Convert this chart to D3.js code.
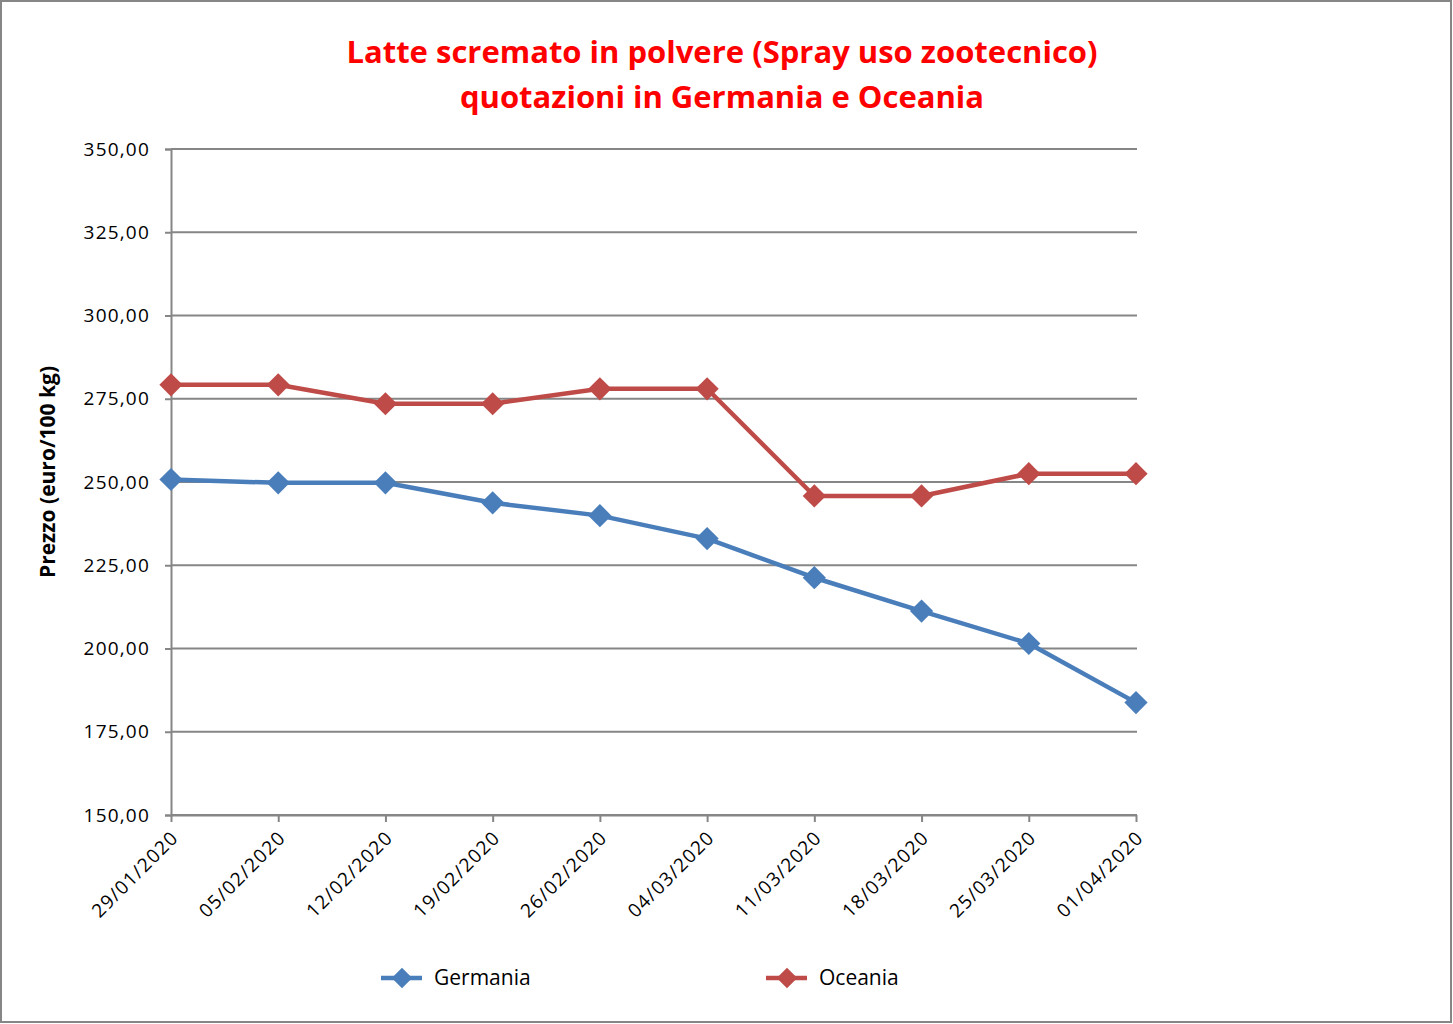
<!DOCTYPE html>
<html><head><meta charset="utf-8">
<script src="https://cdn.jsdelivr.net/npm/d3@7"></script>
<style>body{margin:0;background:#fff}svg{display:block}</style>
</head><body>
<svg id="c" width="1453" height="1024"></svg>
<script>
const dates = ["29/01/2020","05/02/2020","12/02/2020","19/02/2020","26/02/2020","04/03/2020","11/03/2020","18/03/2020","25/03/2020","01/04/2020"];
const germania = [250.75, 249.75, 249.75, 243.75, 239.9, 233.0, 221.25, 211.25, 201.5, 183.75];
const oceania = [279.2, 279.2, 273.5, 273.5, 278.0, 278.0, 245.8, 245.8, 252.5, 252.5];
const yTicks = [150,175,200,225,250,275,300,325,350];
const seriesNames = ["Germania","Oceania"];
const colors = ["#4a7ebb","#be4b48"];

const svg = d3.select("#c");
const font = "'Open Sans', 'Liberation Sans', sans-serif";
svg.append("rect").attr("x",1).attr("y",1).attr("width",1450).attr("height",1021)
  .attr("fill","#fff").attr("stroke","#868686").attr("stroke-width",2);

const x = d3.scalePoint().domain(dates).range([171,1136]);
const y = d3.scaleLinear().domain([150,350]).range([815,149]);

// gridlines
svg.append("g").selectAll("line").data(yTicks).join("line")
  .attr("x1",171).attr("x2",1137).attr("y1",d=>y(d)).attr("y2",d=>y(d))
  .attr("stroke","#868686").attr("stroke-width",2);

// y axis
const ya = svg.append("g").attr("transform","translate(171,0)")
  .call(d3.axisLeft(y).tickValues(yTicks).tickSize(6).tickPadding(15)
    .tickFormat(d=>d3.format(".2f")(d).replace(".",",")));
ya.attr("font-size",null).attr("font-family",null);
ya.select(".domain").attr("stroke","#868686").attr("stroke-width",2);
ya.selectAll(".tick line").attr("stroke","#868686").attr("stroke-width",2);
ya.selectAll("text").attr("font-family",font).attr("font-size","19px").attr("letter-spacing","1.2px").attr("fill","#000");

// x axis
const xa = svg.append("g").attr("transform","translate(0,815)")
  .call(d3.axisBottom(x).tickSize(7).tickSizeOuter(0));
xa.attr("font-size",null).attr("font-family",null);
xa.select(".domain").attr("stroke","#868686").attr("stroke-width",2);
xa.selectAll(".tick line").attr("stroke","#868686").attr("stroke-width",2);
xa.selectAll("text").attr("font-family",font).attr("font-size","19px").attr("letter-spacing","1.2px").attr("fill","#000")
  .attr("text-anchor","end").attr("dy",null).attr("y",0)
  .attr("transform","translate(8,24) rotate(-45)");

// lines
const series = [germania, oceania];
const line = d3.line().x((d,i)=>x(dates[i])).y(d=>y(d));
series.forEach((s,k)=>{
  svg.append("path").datum(s).attr("d",line).attr("fill","none")
    .attr("stroke",colors[k]).attr("stroke-width",4.5).attr("stroke-linejoin","round");
  svg.append("g").selectAll("path").data(s).join("path")
    .attr("d",d3.symbol().type(d3.symbolSquare).size(270))
    .attr("transform",(d,i)=>`translate(${x(dates[i])},${y(d)}) rotate(45)`)
    .attr("fill",colors[k]);
});

// title
const t = svg.append("text").attr("text-anchor","middle").attr("font-family",font)
  .attr("font-weight","bold").attr("font-size",31).attr("fill","#ff0000");
t.append("tspan").attr("x",722).attr("y",63).text("Latte scremato in polvere (Spray uso zootecnico)");
t.append("tspan").attr("x",722).attr("y",108).text("quotazioni in Germania e Oceania");

// y title
svg.append("text").attr("transform","translate(55,472) rotate(-90)").attr("text-anchor","middle")
  .attr("font-family",font).attr("font-weight","bold").attr("font-size",21).attr("fill","#000")
  .text("Prezzo (euro/100 kg)");

// legend
const legX = [381, 766];
seriesNames.forEach((n,k)=>{
  const g = svg.append("g").attr("transform",`translate(${legX[k]},978)`);
  g.append("line").attr("x1",0).attr("x2",41).attr("stroke",colors[k]).attr("stroke-width",4.5);
  g.append("path").attr("d",d3.symbol().type(d3.symbolSquare).size(210)).attr("transform","translate(21,0) rotate(45)").attr("fill",colors[k]);
  g.append("text").attr("x",53).attr("y",7).attr("font-family",font).attr("font-size",21).attr("fill","#000").text(n);
});
</script>
</body></html>
